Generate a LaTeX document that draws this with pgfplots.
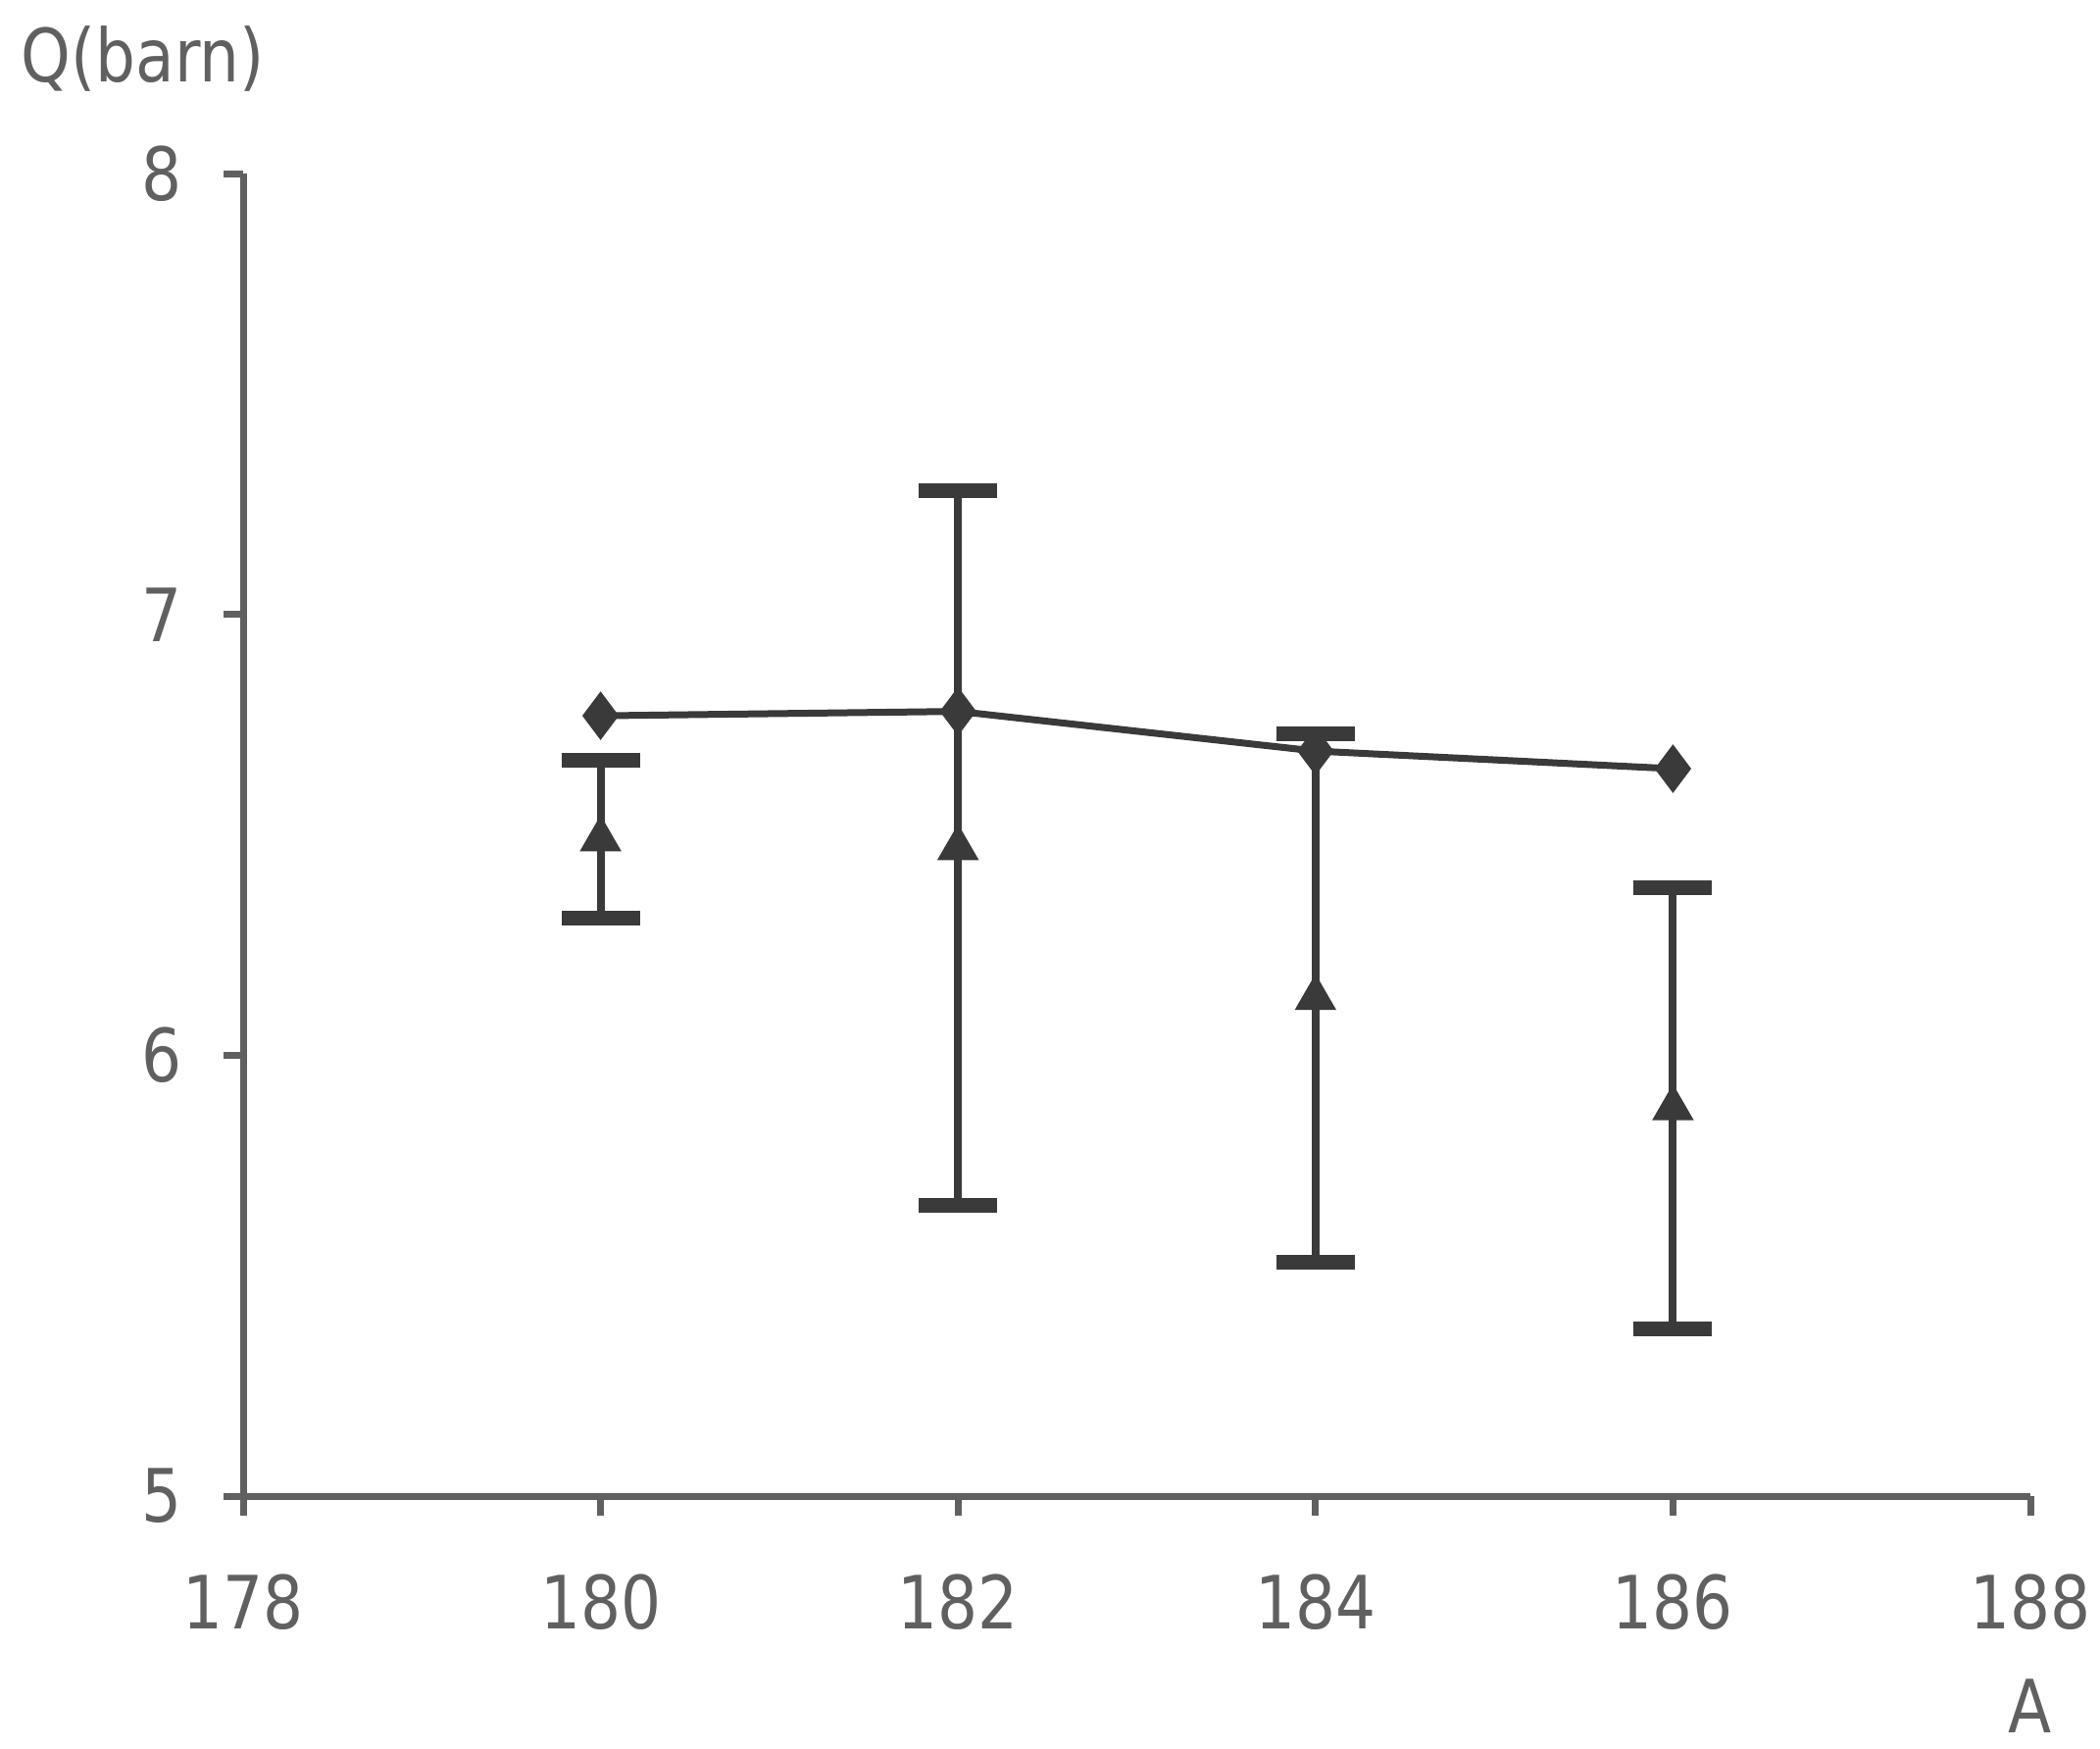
\documentclass[border=0pt]{standalone}
\usepackage{fontspec}
\setmainfont[FakeStretch=0.86]{DejaVu Sans}
\usepackage{pgfplots}
\pgfplotsset{compat=1.18}
\definecolor{txtgray}{HTML}{606060}
\definecolor{ink}{HTML}{3A3A3A}

\begin{document}
\begin{tikzpicture}
\path[use as bounding box] (-49.6pt,-51.4pt) rectangle (378.8pt,305.2pt);
\begin{axis}[
    scale only axis,
    width=364.6pt, height=269.8pt,
    xmin=178, xmax=188, ymin=5, ymax=8,
    xtick={178,180,...,188}, ytick={5,6,7,8},
    axis x line*=bottom, axis y line*=left,
    axis line style={draw=txtgray, line width=1.4pt, -},
    tick style={draw=txtgray, line width=1.4pt},
    tick align=outside, major tick length=4pt,
    tick label style={font=\fontsize{15}{18}\selectfont, text=txtgray},
    /pgf/number format/assume math mode=true,
    /pgf/number format/1000 sep={},
    yticklabel style={xshift=-5pt},
    xticklabel style={yshift=-8.5pt},
    clip=false,
]
% line with diamonds
\addplot[draw=ink, line width=1.4pt, mark=diamond*, mark size=3.8pt,
    mark options={fill=ink, draw=ink}]
    coordinates {(180,6.77) (182,6.78) (184,6.69) (186,6.65)};
% triangles with error bars
\addplot[only marks, mark=triangle*, mark size=4.5pt,
    mark options={fill=ink, draw=ink},
    error bars/.cd, y dir=both, y explicit,
    error bar style={draw=ink, line width=1.6pt},
    error mark options={rotate=90, mark size=8pt, line width=3pt, draw=ink}]
    coordinates {
        (180,6.49) +- (0,0.18)
        (182,6.47) +- (0,0.81)
        (184,6.13) +- (0,0.60)
        (186,5.88) +- (0,0.50)
    };
\node[font=\fontsize{15}{18}\selectfont, text=txtgray] at (rel axis cs:-0.056,1.087) {Q(barn)};
\node[font=\fontsize{15}{18}\selectfont, text=txtgray] at (rel axis cs:1.0,-0.159) {A};
\end{axis}
\end{tikzpicture}
\end{document}
